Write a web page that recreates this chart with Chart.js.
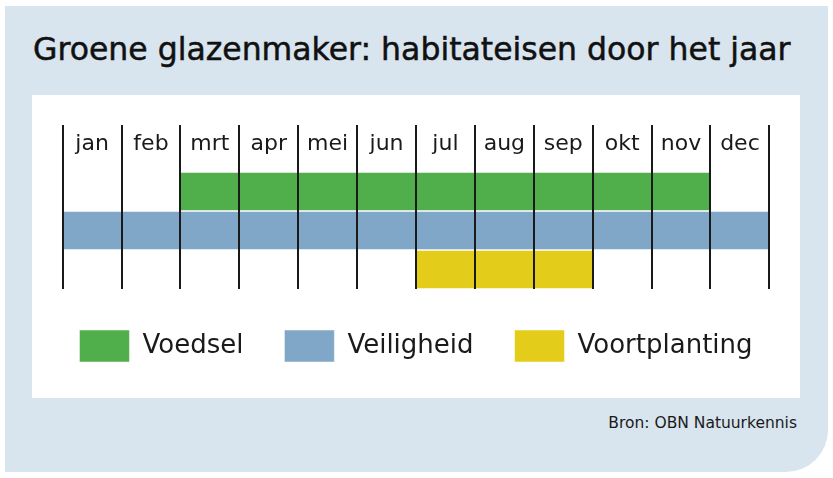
<!DOCTYPE html>
<html>
<head>
<meta charset="utf-8">
<script src="https://cdn.jsdelivr.net/npm/chart.js@4"></script>
<style>
  html, body { margin: 0; padding: 0; background: #fff; }
  body { width: 833px; height: 478px; position: relative; overflow: hidden; font-family: "DejaVu Sans", sans-serif; }
  .frame { position: absolute; left: 5px; top: 6px; width: 823px; height: 466px; background: #d8e4ee; border-bottom-right-radius: 42px; }
  .title { position: absolute; left: 33px; top: 34px; font-size: 31.5px; line-height: 31px; color: #111; white-space: nowrap; -webkit-text-stroke: 0.5px #111; }
  .panel { position: absolute; left: 32px; top: 95px; width: 768px; height: 303px; background: #fff; }
  .source { position: absolute; right: 36px; top: 416px; font-size: 15.5px; line-height: 15.5px; color: #1a1a1a; white-space: nowrap; }
</style>
</head>
<body>
<div class="frame"></div>
<div class="title">Groene glazenmaker: habitateisen door het jaar</div>
<div class="panel"><canvas id="habitatChart" width="768" height="303"></canvas></div>
<div class="source">Bron: OBN Natuurkennis</div>
<script>
// maanden en habitateisen
const months = ['jan', 'feb', 'mrt', 'apr', 'mei', 'jun', 'jul', 'aug', 'sep', 'okt', 'nov', 'dec'];
const needs = ['Voedsel', 'Veiligheid', 'Voortplanting'];
const startMonth = [2, 0, 6];   // begin (index in months)
const endMonth = [11, 12, 9];   // einde (exclusief)
const needColors = ['#50ae4b', '#80a7c8', '#e4cc1b'];

const datasets = needs.map(function(name, i) {
    return {
        label: name,
        data: needs.map(function(_, j) {
            return j === i ? [startMonth[i], endMonth[i]] : null;
        }),
        backgroundColor: needColors[i],
        borderColor: '#ffffff',
        borderWidth: {top: 1, bottom: 1, left: 0, right: 0},
        borderSkipped: false,
        grouped: false,
        barPercentage: 1,
        categoryPercentage: 1
    };
});

// maandnamen midden tussen de lijnen
const monthLabels = {
    id: 'monthLabels',
    afterDraw: function(chart) {
        const x = chart.scales.x;
        const c = chart.ctx;
        c.save();
        c.font = '22px "DejaVu Sans"';
        c.fillStyle = '#1a1a1a';
        c.textAlign = 'center';
        c.textBaseline = 'alphabetic';
        months.forEach(function(m, i) {
            c.fillText(m, x.getPixelForValue(i + 0.5), chart.chartArea.top - 22);
        });
        c.restore();
    }
};

const ctx = document.getElementById('habitatChart').getContext('2d');
new Chart(ctx, {
    type: 'bar',
    data: {
        labels: needs,
        datasets: datasets
    },
    plugins: [monthLabels],
    options: {
        indexAxis: 'y',
        responsive: false,
        animation: false,
        layout: {
            padding: {left: 0, right: 0, top: 30, bottom: 26}
        },
        plugins: {
            tooltip: {enabled: false},
            legend: {
                position: 'bottom',
                labels: {
                    boxWidth: 50,
                    boxHeight: 32,
                    padding: 41,
                    color: '#1a1a1a',
                    font: {family: 'DejaVu Sans', size: 26}
                }
            }
        },
        scales: {
            x: {
                type: 'linear',
                position: 'top',
                min: -0.52,
                max: 12.52,
                border: {display: false},
                afterBuildTicks: function(scale) {
                    scale.ticks = months.concat(['']).map(function(_, i) {
                        return {value: i};
                    });
                },
                grid: {
                    z: 1,
                    lineWidth: 2,
                    tickLength: 47,
                    color: '#1a1a1a'
                },
                ticks: {
                    display: false
                }
            },
            y: {
                display: false
            }
        }
    }
});
</script>
</body>
</html>
